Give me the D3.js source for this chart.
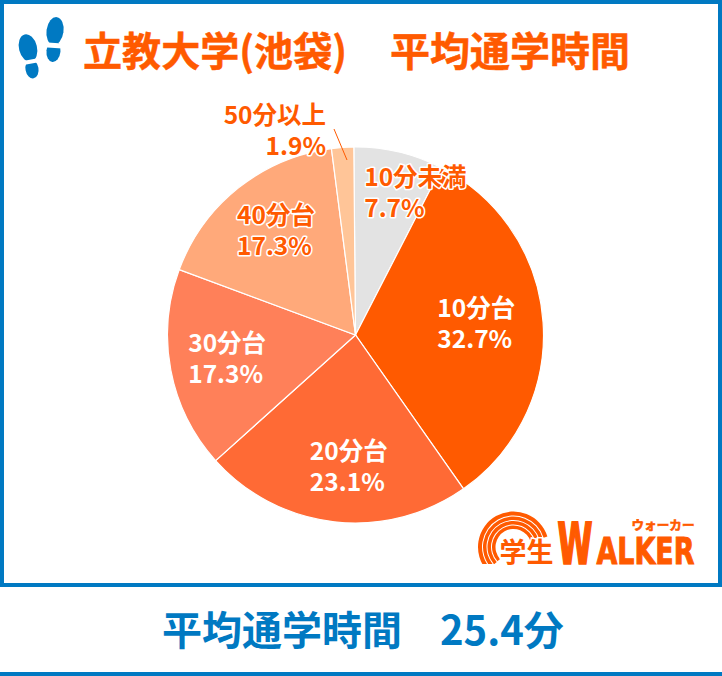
<!DOCTYPE html>
<html>
<head>
<meta charset="utf-8">
<script src="https://cdnjs.cloudflare.com/ajax/libs/d3/7.8.5/d3.min.js"></script>
<style>
  html, body { margin: 0; padding: 0; background: #fff; }
  text { font-family: "Noto Sans CJK JP", sans-serif; font-weight: 700; }
</style>
</head>
<body>
<div id="chart"></div>
<script>
// Chart data
const categories = ["10分未満", "10分台", "20分台", "30分台", "40分台", "50分以上"];
const percents = [7.7, 32.7, 23.1, 17.3, 17.3, 1.9];
const colors = ["#e3e3e3", "#ff5a00", "#ff6a35", "#ff8059", "#ffa97a", "#ffc598"];
const labelColors = ["#ff5a00", "#fff", "#fff", "#fff", "#ff5a00", "#ff5a00"];
// label offset from the slice centroid
const labelShift = [[-13, -58], [-12, -12], [-35, 32], [-75, -1], [-60, -37], [-23, -117]];
const titleLeft = "立教大学(池袋)";
const titleRight = "平均通学時間";
const footerLeft = "平均通学時間";
const footerRight = "25.4分";

const width = 722;
const height = 676;
const blue = "#0079c2";
const orange = "#ff5a00";

const svg = d3.select("#chart")
    .append("svg")
    .attr("width", width)
    .attr("height", height)
    .style("display", "block");

// Frame round the chart area
svg.append("rect")
    .attr("x", 2).attr("y", 2)
    .attr("width", width - 4).attr("height", 583)
    .attr("fill", "none")
    .attr("stroke", blue)
    .attr("stroke-width", 4);
svg.append("rect")
    .attr("x", 0).attr("y", 672)
    .attr("width", width).attr("height", 4)
    .attr("fill", blue);

// Footprints icon
const feet = svg.append("g").attr("fill", blue);
feet.append("ellipse").attr("rx", 9).attr("ry", 14).attr("transform", "translate(28,48) rotate(-14)");
feet.append("ellipse").attr("rx", 6.5).attr("ry", 9.5).attr("transform", "translate(32,69) rotate(-10)");
feet.append("ellipse").attr("rx", 8.5).attr("ry", 14).attr("transform", "translate(55,31) rotate(8)");
feet.append("ellipse").attr("rx", 7).attr("ry", 11).attr("transform", "translate(53.5,51) rotate(6)");
feet.append("line").attr("x1", 15).attr("y1", 64.5).attr("x2", 45).attr("y2", 59)
    .attr("stroke", "#fff").attr("stroke-width", 4);
feet.append("line").attr("x1", 40).attr("y1", 44.4).attr("x2", 70).attr("y2", 46.4)
    .attr("stroke", "#fff").attr("stroke-width", 5);

// Title
svg.append("text").attr("x", 83).attr("y", 66)
    .attr("font-size", 40).attr("textLength", 264).attr("lengthAdjust", "spacingAndGlyphs")
    .attr("fill", orange).attr("stroke", orange).attr("stroke-width", 0.5).text(titleLeft);
svg.append("text").attr("x", 390).attr("y", 66)
    .attr("font-size", 40).attr("fill", orange).attr("stroke", orange).attr("stroke-width", 0.5).text(titleRight);

// Pie
const radius = 188;
const rotation = -0.009;
const pieGroup = svg.append("g").attr("transform", "translate(355.5,335)");
const pie = d3.pie().sort(null).value(d => d)
    .startAngle(rotation).endAngle(2 * Math.PI + rotation);
const arc = d3.arc().innerRadius(0).outerRadius(radius);
const slices = pie(percents);

pieGroup.selectAll("path")
    .data(slices)
    .join("path")
    .attr("d", arc)
    .attr("fill", (d, i) => colors[i])
    .attr("stroke", "#fff")
    .attr("stroke-width", 1.2);

// Leader line for the smallest slice
pieGroup.append("line")
    .attr("x1", -8.5).attr("y1", -175)
    .attr("x2", -21.5).attr("y2", -206)
    .attr("stroke", orange)
    .attr("stroke-width", 1);

// Slice labels
slices.forEach((d, i) => {
    const c = arc.centroid(d);
    const label = pieGroup.append("text")
        .attr("text-anchor", i === 5 ? "end" : "start")
        .attr("font-size", 24.5)
        .attr("fill", labelColors[i])
        .attr("stroke", labelColors[i] === "#fff" ? "none" : "#fff")
        .attr("stroke-width", 3)
        .attr("paint-order", "stroke")
        .attr("stroke-linejoin", "round");
    const lx = c[0] + labelShift[i][0];
    const ly = c[1] + labelShift[i][1];
    label.append("tspan").attr("x", lx).attr("y", ly).text(categories[i]);
    label.append("tspan").attr("x", lx).attr("y", ly + 31).text(d.value.toFixed(1) + "%");
});

// Logo
const logo = svg.append("g").attr("transform", "translate(513.5,547)");
svg.append("clipPath").attr("id", "logo-clip")
    .append("rect").attr("x", -40).attr("y", -40).attr("width", 80).attr("height", 57);
const rings = logo.append("g").attr("clip-path", "url(#logo-clip)");
[[31.5, 35.5], [27, 30.5], [22.5, 26], [18, 21.5]].forEach(r => {
    rings.append("path")
        .attr("d", d3.arc().innerRadius(r[0]).outerRadius(r[1]).startAngle(-2.3).endAngle(1.27)())
        .attr("fill", orange);
});
logo.append("text").attr("x", -14).attr("y", 15).attr("font-size", 27).attr("fill", orange)
    .attr("stroke", "#fff").attr("stroke-width", 3).attr("paint-order", "stroke").attr("font-weight", 500).text("学生");
logo.append("text")
    .style("font-family", "'DejaVu Sans Condensed'")
    .attr("x", 44).attr("y", 17)
    .attr("font-size", 57).attr("textLength", 35).attr("lengthAdjust", "spacingAndGlyphs")
    .attr("fill", orange).attr("stroke", orange).attr("stroke-width", 2).text("W");
logo.append("text")
    .style("font-family", "'DejaVu Sans Condensed'")
    .attr("x", 83).attr("y", 17)
    .attr("font-size", 38).attr("textLength", 98).attr("lengthAdjust", "spacingAndGlyphs")
    .attr("fill", orange).attr("stroke", orange).attr("stroke-width", 1).text("ALKER");
logo.append("text")
    .attr("x", 118).attr("y", -17)
    .attr("font-size", 12).attr("textLength", 63).attr("lengthAdjust", "spacingAndGlyphs")
    .attr("fill", orange).attr("stroke", orange).attr("stroke-width", 0.6).text("ウォーカー");

// Footer
svg.append("text").attr("x", 162).attr("y", 645)
    .attr("font-size", 40).attr("fill", blue).text(footerLeft);
svg.append("text").attr("x", 440).attr("y", 645)
    .attr("font-size", 40).attr("fill", blue).text(footerRight);
</script>
</body>
</html>
